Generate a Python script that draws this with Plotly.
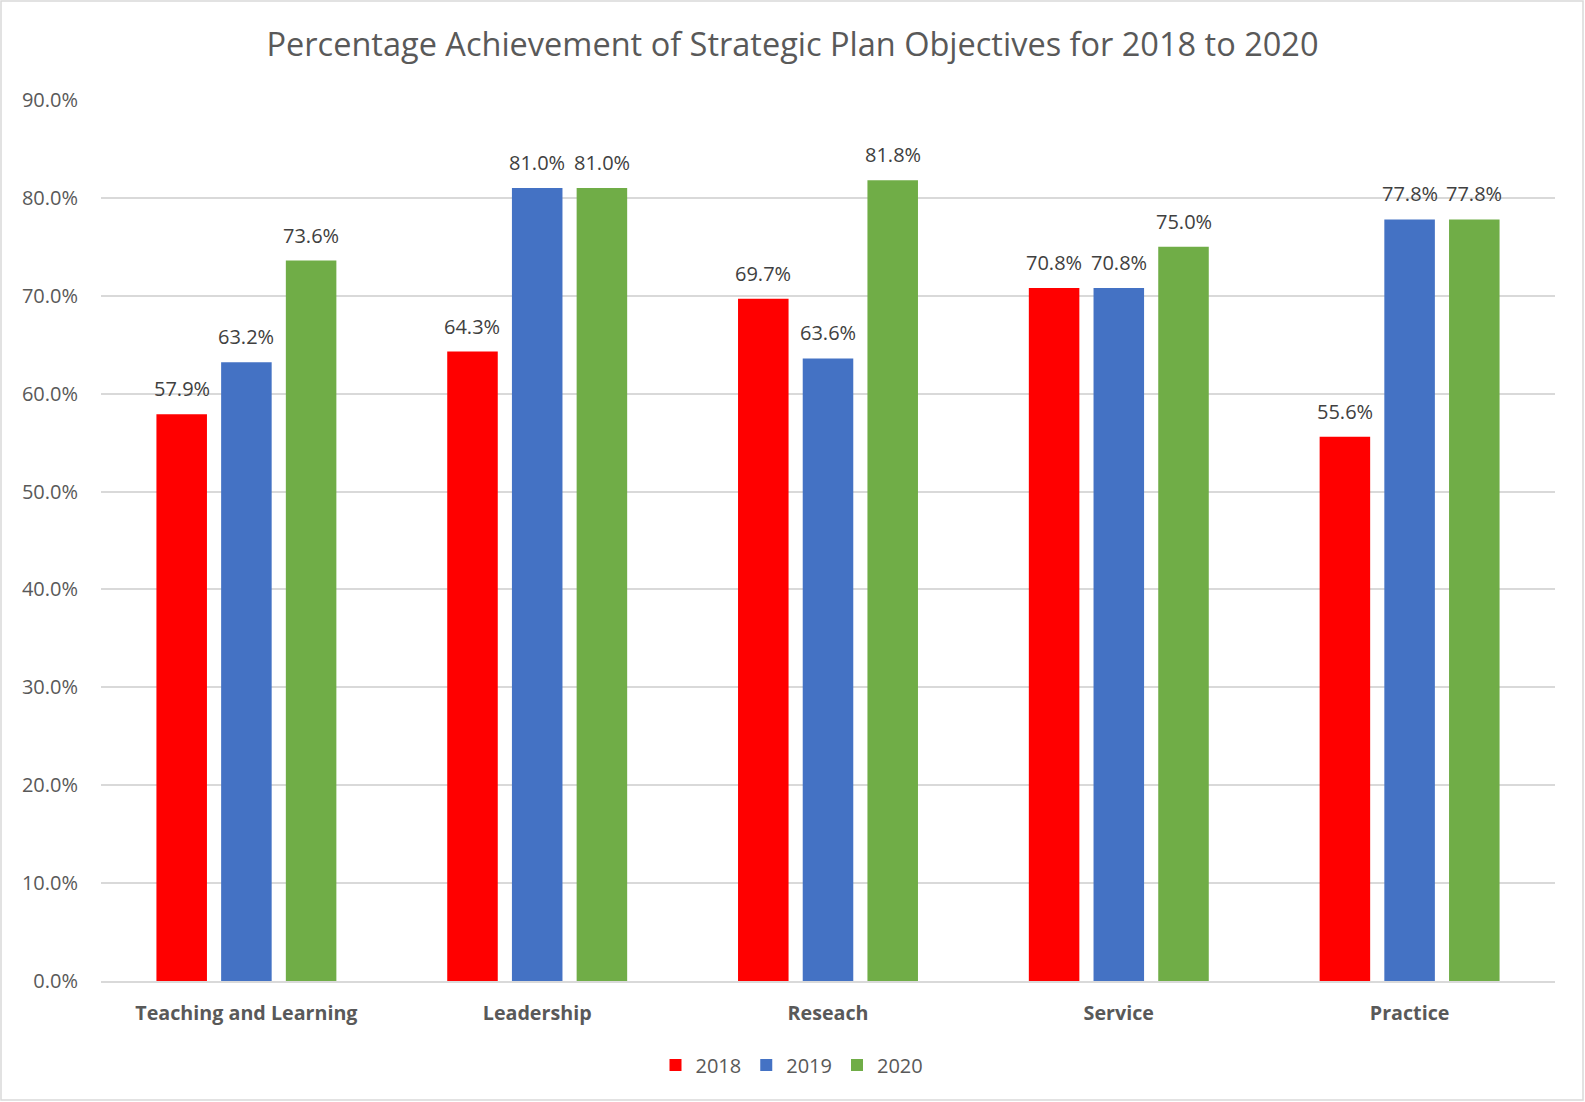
import plotly.graph_objects as go

categories = ["Teaching and Learning", "Leadership", "Reseach", "Service", "Practice"]
years = ["2018", "2019", "2020"]
v2018 = [57.9, 64.3, 69.7, 70.8, 55.6]
v2019 = [63.2, 81.0, 63.6, 70.8, 77.8]
v2020 = [73.6, 81.0, 81.8, 75.0, 77.8]
colors = ["#FF0000", "#4472C4", "#70AD47"]

FONT = "Open Sans"
L, R, T, B = 101, 30, 100, 121
W, H = 1585, 1102
pw, ph = W - L - R, H - T - B
BARGAP, GROUPGAP = 0.3325, 0.219
slot_px = (1 - BARGAP) / 3 * pw / len(categories)

fig = go.Figure()
annotations = []
for i, (name, vals, c) in enumerate(zip(years, [v2018, v2019, v2020], colors)):
    fig.add_trace(go.Bar(x=categories, y=vals, name=name, marker_color=c, marker_line_width=0))
    for cat, v in zip(categories, vals):
        annotations.append(dict(
            x=cat, y=v, xref="x", yref="y", text=f"{v:.1f}%", showarrow=False,
            xanchor="center", yanchor="bottom", xshift=(i - 1) * slot_px, yshift=10,
            font=dict(family=FONT, size=20, color="#404040")))

fig.update_layout(
    width=W, height=H, autosize=False,
    margin=dict(l=L, r=R, t=T, b=B),
    paper_bgcolor="white", plot_bgcolor="white",
    barmode="group", bargap=BARGAP, bargroupgap=GROUPGAP,
    title=dict(text="Percentage Achievement of Strategic Plan Objectives for 2018 to 2020",
               x=0.5, xanchor="center", y=1 - 44.5 / H, yanchor="middle",
               font=dict(family=FONT, size=32.5, color="#595959")),
    font=dict(family=FONT, color="#595959"),
    showlegend=True,
    legend=dict(orientation="h", x=(792 - L) / pw, xanchor="center", y=-(1065 - (H - B)) / ph,
                yanchor="middle", font=dict(family=FONT, size=20, color="#595959"),
                traceorder="normal", itemwidth=30),
    xaxis=dict(showgrid=False, showline=True, linecolor="#D9D9D9", linewidth=1.5,
               tickfont=dict(family=FONT, size=19.7, color="#595959", weight="bold"), ticks="",
               ticklabelstandoff=14),
    yaxis=dict(range=[0, 90], dtick=10, tickformat=".1f", ticksuffix="%",
               showgrid=True, gridcolor="#D9D9D9", gridwidth=1.5, zeroline=False,
               tickfont=dict(family=FONT, size=20, color="#595959"), ticks="",
               ticklabelstandoff=22),
    annotations=annotations,
    shapes=[dict(type="rect", xref="paper", yref="paper",
                 x0=(1 - L) / pw, x1=(1583 - L) / pw,
                 y0=-(1100 - (H - B)) / ph, y1=((H - B) - 1) / ph,
                 line=dict(color="#D9D9D9", width=1.5), fillcolor="rgba(0,0,0,0)", layer="below")],
)
fig.write_html("out.html")
